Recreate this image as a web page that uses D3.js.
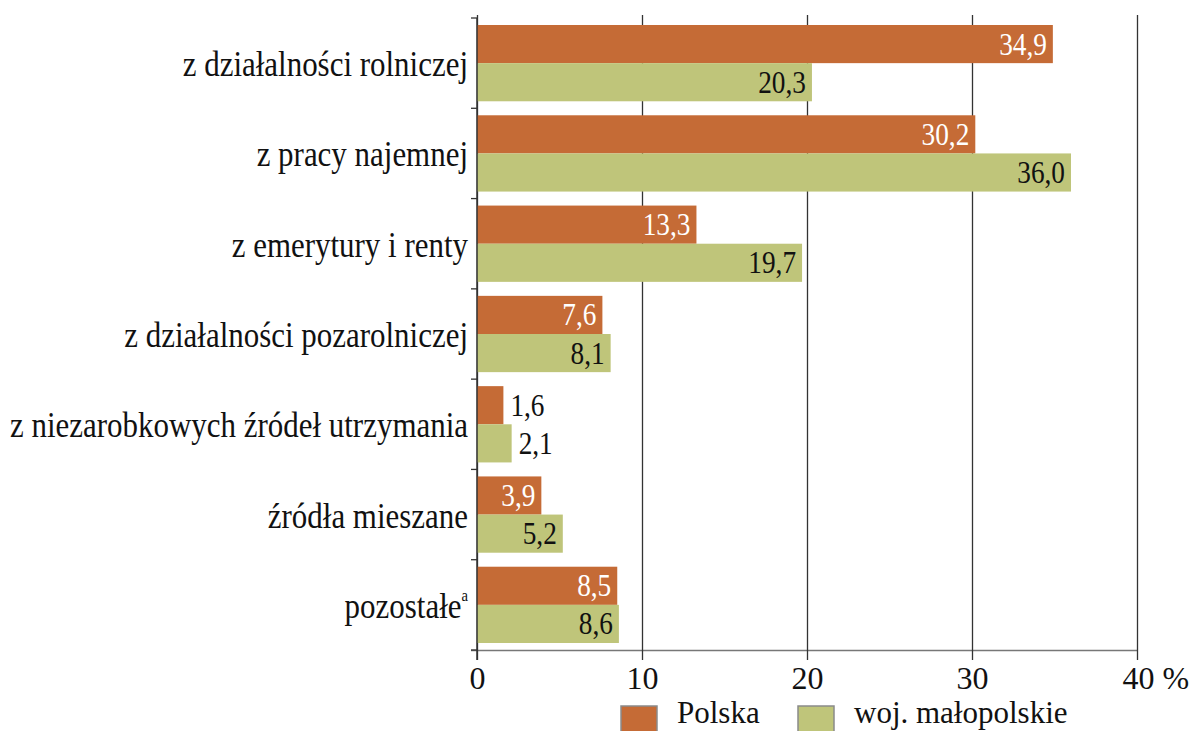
<!DOCTYPE html>
<html>
<head>
<meta charset="utf-8">
<script src="https://cdn.jsdelivr.net/npm/d3@7"></script>
<style>
  body { margin: 0; background: #fff; }
  text { font-family: "Liberation Serif", "Times New Roman", serif; }
</style>
</head>
<body>
<div id="chart"></div>
<script>
const categories = [
  "z działalności rolniczej",
  "z pracy najemnej",
  "z emerytury i renty",
  "z działalności pozarolniczej",
  "z niezarobkowych źródeł utrzymania",
  "źródła mieszane",
  "pozostałe"
];
const seriesNames = ["Polska", "woj. małopolskie"];
const polska = [34.9, 30.2, 13.3, 7.6, 1.6, 3.9, 8.5];
const malopolskie = [20.3, 36.0, 19.7, 8.1, 2.1, 5.2, 8.6];
const xTicks = [0, 10, 20, 30, 40];
const colors = ["#C56B36", "#BFC57A"];

const width = 1193, height = 731;
const x0 = 477, x1 = 1137, yTop = 18, yBottom = 650;

const svg = d3.select("#chart").append("svg").attr("width", width).attr("height", height);

const x = d3.scaleLinear().domain([0, 40]).range([x0, x1]);
const y = d3.scaleBand().domain(categories).range([yTop, yBottom]);
const yInner = d3.scaleBand().domain(seriesNames).range([7, y.bandwidth() - 7]);

const fmt = v => v.toFixed(1).replace(".", ",");

// grid lines + bottom ticks
const xAxis = svg.append("g").attr("transform", `translate(0,${yBottom})`)
  .call(d3.axisBottom(x).tickValues(xTicks).tickSize(10).tickSizeOuter(0)
    .tickFormat(d => d === 40 ? "40 %" : d));
xAxis.select(".domain").attr("stroke", "#777").attr("stroke-width", 1.5)
  .attr("d", `M${x0 - 6},0.5H${x1}`);
xAxis.selectAll(".tick line").attr("stroke", "#333").attr("stroke-width", 1.3)
  .attr("y1", -(yBottom - 15));
xAxis.selectAll(".tick text").attr("fill", "#111").attr("font-size", 32)
  .attr("y", 16).attr("dy", "0.71em")
  .attr("font-family", "Liberation Serif");
xAxis.selectAll(".tick").filter(d => d === 40).select("text")
  .attr("text-anchor", "start").attr("x", -15);

// bars
const rows = categories.map((c, i) => ({cat: c, values: [polska[i], malopolskie[i]]}));
const groups = svg.selectAll("g.grp").data(rows).enter().append("g")
  .attr("class", "grp")
  .attr("transform", d => `translate(0,${y(d.cat)})`);

groups.selectAll("rect").data(d => d.values.map((v, j) => ({v, s: seriesNames[j], j})))
  .enter().append("rect")
  .attr("x", x(0))
  .attr("y", d => yInner(d.s))
  .attr("width", d => x(d.v) - x(0))
  .attr("height", yInner.bandwidth())
  .attr("fill", d => colors[d.j]);

groups.selectAll("text.val").data(d => d.values.map((v, j) => ({v, s: seriesNames[j], j})))
  .enter().append("text")
  .attr("class", "val")
  .attr("transform", d => {
    const inside = d.v > 3;
    const tx = inside ? x(d.v) - 6 : x(d.v) + 7;
    return `translate(${tx},${yInner(d.s) + yInner.bandwidth() / 2 + 10.5}) scale(0.88,1)`;
  })
  .attr("text-anchor", d => d.v > 3 ? "end" : "start")
  .attr("font-size", 31)
  .attr("fill", d => d.v > 3 && d.j === 0 ? "#fff" : "#111")
  .text(d => fmt(d.v));

// left axis
const yAxis = svg.append("g").attr("transform", `translate(${x0},0)`);
yAxis.append("line").attr("x1", 0).attr("x2", 0).attr("y1", yTop).attr("y2", yBottom + 10)
  .attr("stroke", "#333").attr("stroke-width", 1.5);
yAxis.selectAll("line.tk").data(categories.map(c => y(c)).concat([yBottom]))
  .enter().append("line").attr("class", "tk")
  .attr("x1", -6).attr("x2", 0).attr("y1", d => d).attr("y2", d => d)
  .attr("stroke", "#333").attr("stroke-width", 1.3);

const labels = svg.selectAll("text.cat").data(categories).enter().append("text")
  .attr("class", "cat")
  .attr("transform", d => `translate(${x0 - 9},${y(d) + y.bandwidth() / 2 + 13}) scale(0.86,1)`)
  .attr("text-anchor", "end")
  .attr("font-size", 36)
  .attr("fill", "#111");
labels.append("tspan").text(d => d);
labels.filter(d => d === "pozostałe").append("tspan")
  .attr("font-size", 17).attr("dy", -17).text("a");

// legend
const legend = svg.append("g");
const legendX = [621, 798];
seriesNames.forEach((s, i) => {
  legend.append("rect").attr("x", legendX[i]).attr("y", 706).attr("width", 36).attr("height", 27)
    .attr("fill", colors[i]).attr("stroke", "#8a8a8a").attr("stroke-width", 1.5);
  legend.append("text").attr("x", legendX[i] + 56).attr("y", 723)
    .attr("font-size", 31).attr("fill", "#111").text(s);
});
</script>
</body>
</html>
